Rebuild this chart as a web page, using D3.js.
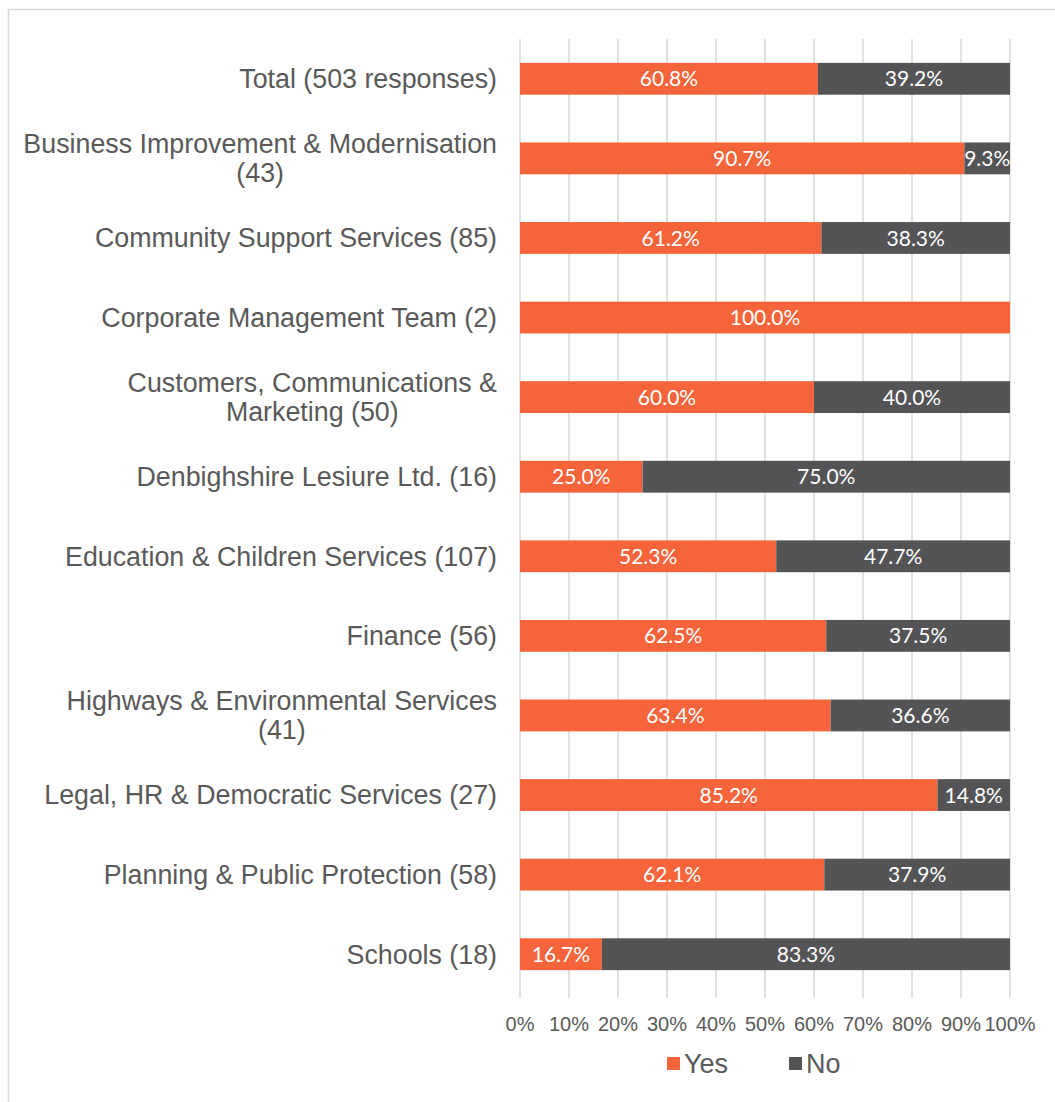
<!DOCTYPE html>
<html>
<head>
<meta charset="utf-8">
<script src="https://cdn.jsdelivr.net/npm/d3@7"></script>
<style>
  body { margin: 0; background: #fff; }
  svg { display: block; }
</style>
</head>
<body>
<div id="chart"></div>
<script>
// Departments, split into the lines the labels are shown on
var categories = [
  ['Total (503 responses)'],
  ['Business Improvement & Modernisation', '(43)'],
  ['Community Support Services (85)'],
  ['Corporate Management Team (2)'],
  ['Customers, Communications &', 'Marketing (50)'],
  ['Denbighshire Lesiure Ltd. (16)'],
  ['Education & Children Services (107)'],
  ['Finance (56)'],
  ['Highways & Environmental Services', '(41)'],
  ['Legal, HR & Democratic Services (27)'],
  ['Planning & Public Protection (58)'],
  ['Schools (18)']
];
var yesValues = [60.8, 90.7, 61.2, 100.0, 60.0, 25.0, 52.3, 62.5, 63.4, 85.2, 62.1, 16.7];
var noValues  = [39.2, 9.3, 38.3, 0, 40.0, 75.0, 47.7, 37.5, 36.6, 14.8, 37.9, 83.3];
var seriesNames = ['Yes', 'No'];
var tickValues = [0, 0.1, 0.2, 0.3, 0.4, 0.5, 0.6, 0.7, 0.8, 0.9, 1];

var svgWidth = 1055, svgHeight = 1102;
var margin = { top: 39, left: 520, right: 45, bottom: 108 };
var colors = { Yes: '#F5643B', No: '#545456' };
var textColor = '#595959';

var rows = categories.map(function(c, i) {
  return { key: i, label: c, Yes: yesValues[i], No: noValues[i] };
});

var svg = d3.select('#chart').append('svg')
  .attr('width', svgWidth)
  .attr('height', svgHeight);

// outer chart frame (only left and top show in the picture)
svg.append('rect')
  .attr('x', 8.5).attr('y', 9.5)
  .attr('width', svgWidth + 20).attr('height', svgHeight + 20)
  .attr('fill', 'none')
  .attr('stroke', '#d9d9d9')
  .attr('stroke-width', 1.5);

var x = d3.scaleLinear()
  .domain([0, 1])
  .range([margin.left, svgWidth - margin.right]);

var y = d3.scaleBand()
  .domain(rows.map(function(d) { return d.key; }))
  .range([margin.top, svgHeight - margin.bottom])
  .paddingInner(0.6)
  .paddingOuter(0.3);

// 100% stacked, like the original spreadsheet chart
var stacked = d3.stack()
  .keys(seriesNames)
  .offset(d3.stackOffsetExpand)(rows);

// gridlines
svg.append('g')
  .selectAll('line')
  .data(tickValues)
  .enter().append('line')
  .attr('x1', function(d) { return x(d); })
  .attr('x2', function(d) { return x(d); })
  .attr('y1', margin.top)
  .attr('y2', svgHeight - margin.bottom + 4)
  .attr('stroke', '#d9d9d9')
  .attr('stroke-width', 1.5);

// bars
var layers = svg.append('g')
  .selectAll('g')
  .data(stacked)
  .enter().append('g')
  .attr('fill', function(d) { return colors[d.key]; });

layers.selectAll('rect')
  .data(function(d) { return d; })
  .enter().append('rect')
  .attr('x', function(d) { return x(d[0]); })
  .attr('y', function(d) { return y(d.data.key); })
  .attr('width', function(d) { return x(d[1]) - x(d[0]); })
  .attr('height', y.bandwidth());

// value labels
layers.each(function(layer) {
  d3.select(this).selectAll('text')
    .data(layer.filter(function(d) { return d.data[layer.key] > 0; }))
    .enter().append('text')
    .attr('x', function(d) { return (x(d[0]) + x(d[1])) / 2; })
    .attr('y', function(d) { return y(d.data.key) + y.bandwidth() / 2; })
    .attr('dy', '0.36em')
    .attr('text-anchor', 'middle')
    .attr('fill', '#fff')
    .style('font-family', 'Lato, "Open Sans", sans-serif')
    .style('font-size', '21px')
    .text(function(d) { return d.data[layer.key].toFixed(1) + '%'; });
});

// category labels, multi-line ones centred within their block
var labelRight = margin.left - 23;
var lineGap = 29;
var catLabels = svg.append('g')
  .selectAll('text')
  .data(rows)
  .enter().append('text')
  .attr('text-anchor', 'middle')
  .attr('fill', textColor)
  .style('font-family', '"Liberation Sans", Arial, sans-serif')
  .style('font-size', '26.8px');

catLabels.each(function(d) {
  var t = d3.select(this);
  var cy = y(d.key) + y.bandwidth() / 2;
  var n = d.label.length;
  d.label.forEach(function(line, i) {
    t.append('tspan')
      .attr('x', 0)
      .attr('y', cy + (i - (n - 1) / 2) * lineGap)
      .attr('dy', '0.35em')
      .text(line);
  });
  var w = this.getBBox().width;
  t.selectAll('tspan').attr('x', labelRight - w / 2);
});

// x axis tick labels
svg.append('g')
  .selectAll('text')
  .data(tickValues)
  .enter().append('text')
  .attr('x', function(d) { return x(d); })
  .attr('y', 1024)
  .attr('dy', '0.35em')
  .attr('text-anchor', 'middle')
  .attr('fill', textColor)
  .style('font-family', '"Liberation Sans", Arial, sans-serif')
  .style('font-size', '20px')
  .text(function(d) { return d3.format('.0%')(d); });

// legend
var legendX = [667, 789];
var legend = svg.append('g')
  .selectAll('g')
  .data(seriesNames)
  .enter().append('g')
  .attr('transform', function(d, i) { return 'translate(' + legendX[i] + ',1064)'; });

legend.append('rect')
  .attr('x', 0).attr('y', -7)
  .attr('width', 13).attr('height', 13)
  .attr('fill', function(d) { return colors[d]; });

legend.append('text')
  .attr('x', 17)
  .attr('dy', '0.35em')
  .attr('fill', textColor)
  .style('font-family', '"Liberation Sans", Arial, sans-serif')
  .style('font-size', '27px')
  .text(function(d) { return d; });
</script>
</body>
</html>
